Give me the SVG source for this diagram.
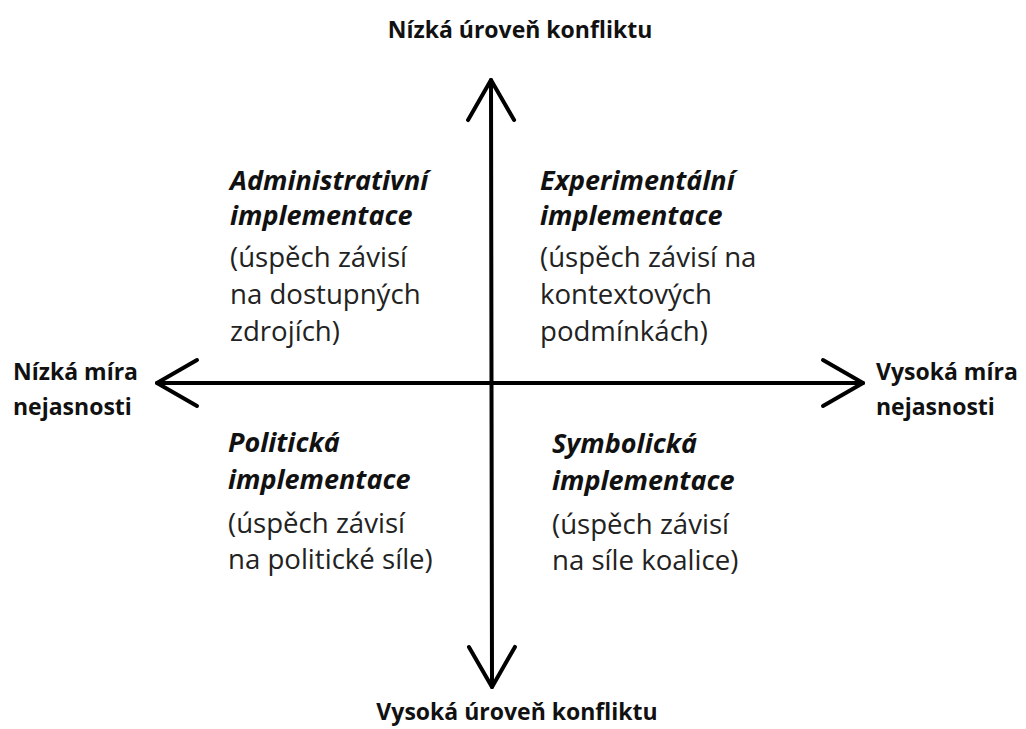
<svg xmlns="http://www.w3.org/2000/svg" width="1026" height="729" viewBox="0 0 1026 729">
<style>
.axis{font-family:"Open Sans","Noto Sans",sans-serif;font-weight:700;font-size:23px;fill:#111}
.head{font-family:"Open Sans","Noto Sans",sans-serif;font-weight:700;font-style:italic;font-size:27px;fill:#111}
.body{font-family:"Open Sans","Noto Sans",sans-serif;font-weight:400;font-size:27.6px;fill:#222}
.conn{stroke:#000;stroke-width:4;fill:none;stroke-linecap:round;stroke-linejoin:round}
</style>
<defs>
<marker id="chev" markerUnits="userSpaceOnUse" markerWidth="60" markerHeight="60" refX="0" refY="0" viewBox="-50 -30 60 60" orient="auto-start-reverse" overflow="visible">
<path d="M-40,-23 L0,0 L-40,23" fill="none" stroke="#000" stroke-width="4" stroke-linecap="round" stroke-linejoin="round"/>
</marker>
</defs>
<rect width="1026" height="729" fill="#fff"/>
<g id="connectors">
<line class="conn" x1="491" y1="80" x2="492" y2="687" marker-start="url(#chev)" marker-end="url(#chev)"/>
<line class="conn" x1="157" y1="383" x2="863" y2="383" marker-start="url(#chev)" marker-end="url(#chev)"/>
</g>
<g id="label-top"><text class="axis" x="520" y="38" text-anchor="middle">Nízká úroveň konfliktu</text></g>
<g id="label-bottom"><text class="axis" x="517" y="720" text-anchor="middle">Vysoká úroveň konfliktu</text></g>
<g id="label-left"><text class="axis" x="13" y="380">Nízká míra</text><text class="axis" x="13" y="415">nejasnosti</text></g>
<g id="label-right"><text class="axis" x="876" y="380">Vysoká míra</text><text class="axis" x="876" y="415">nejasnosti</text></g>
<g id="q-admin">
<text class="head" x="230" y="190">Administrativní</text>
<text class="head" x="230" y="225">implementace</text>
<text class="body" x="230" y="267">(úspěch závisí</text>
<text class="body" x="230" y="304">na dostupných</text>
<text class="body" x="230" y="341">zdrojích)</text>
</g>
<g id="q-exper">
<text class="head" x="540" y="190">Experimentální</text>
<text class="head" x="540" y="225">implementace</text>
<text class="body" x="540" y="267">(úspěch závisí na</text>
<text class="body" x="540" y="304">kontextových</text>
<text class="body" x="540" y="341">podmínkách)</text>
</g>
<g id="q-polit">
<text class="head" x="228" y="452">Politická</text>
<text class="head" x="228" y="489">implementace</text>
<text class="body" x="228" y="533">(úspěch závisí</text>
<text class="body" x="228" y="569">na politické síle)</text>
</g>
<g id="q-symb">
<text class="head" x="552" y="453">Symbolická</text>
<text class="head" x="552" y="490">implementace</text>
<text class="body" x="552" y="534">(úspěch závisí</text>
<text class="body" x="552" y="570">na síle koalice)</text>
</g>
</svg>
